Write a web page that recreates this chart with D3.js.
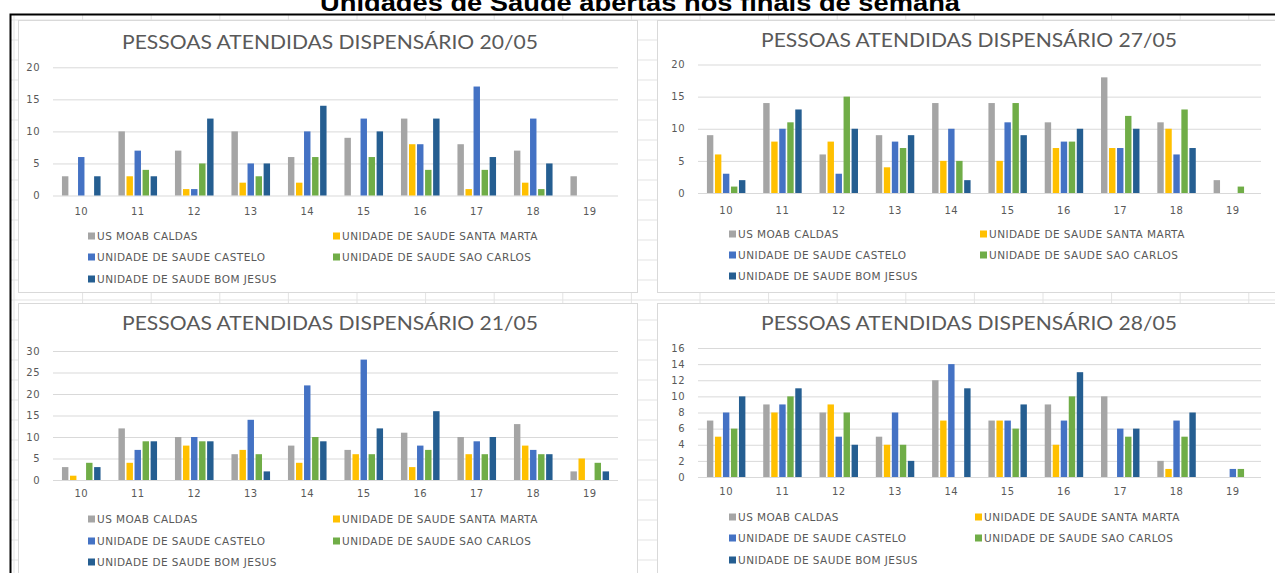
<!DOCTYPE html>
<html>
<head>
<meta charset="utf-8">
<script src="https://cdn.jsdelivr.net/npm/d3@7.9.0/dist/d3.min.js"></script>
<style>
  body { margin: 0; background: #fff; }
  svg { display: block; }
</style>
</head>
<body>
<svg width="1275" height="573"></svg>
<script>
const days = ['10', '11', '12', '13', '14', '15', '16', '17', '18', '19'];
const units = ['US MOAB CALDAS', 'UNIDADE DE SAUDE SANTA MARTA', 'UNIDADE DE SAUDE CASTELO',
               'UNIDADE DE SAUDE SAO CARLOS', 'UNIDADE DE SAUDE BOM JESUS'];
const unitColors = ['#a5a5a5', '#ffc000', '#4472c4', '#70ad47', '#255e91'];

// 20/05
const moab20 = [3, 10, 7, 10, 6, 9, 12, 8, 7, 3];
const marta20 = [0, 3, 1, 2, 2, 0, 8, 1, 2, 0];
const castelo20 = [6, 7, 1, 5, 10, 12, 8, 17, 12, 0];
const carlos20 = [0, 4, 5, 3, 6, 6, 4, 4, 1, 0];
const jesus20 = [3, 3, 12, 5, 14, 10, 12, 6, 5, 0];
// 27/05
const moab27 = [9, 14, 6, 9, 14, 14, 11, 18, 11, 2];
const marta27 = [6, 8, 8, 4, 5, 5, 7, 7, 10, 0];
const castelo27 = [3, 10, 3, 8, 10, 11, 8, 7, 6, 0];
const carlos27 = [1, 11, 15, 7, 5, 14, 8, 12, 13, 1];
const jesus27 = [2, 13, 10, 9, 2, 9, 10, 10, 7, 0];
// 21/05
const moab21 = [3, 12, 10, 6, 8, 7, 11, 10, 13, 2];
const marta21 = [1, 4, 8, 7, 4, 6, 3, 6, 8, 5];
const castelo21 = [0, 7, 10, 14, 22, 28, 8, 9, 7, 0];
const carlos21 = [4, 9, 9, 6, 10, 6, 7, 6, 6, 4];
const jesus21 = [3, 9, 9, 2, 9, 12, 16, 10, 6, 2];
// 28/05
const moab28 = [7, 9, 8, 5, 12, 7, 9, 10, 2, 0];
const marta28 = [5, 8, 9, 4, 7, 7, 4, 0, 1, 0];
const castelo28 = [8, 9, 5, 8, 14, 7, 7, 6, 7, 1];
const carlos28 = [6, 10, 8, 4, 0, 6, 10, 5, 5, 1];
const jesus28 = [10, 11, 4, 2, 11, 9, 13, 6, 8, 0];

const titles = ['PESSOAS ATENDIDAS DISPENSÁRIO 20/05', 'PESSOAS ATENDIDAS DISPENSÁRIO 27/05',
                'PESSOAS ATENDIDAS DISPENSÁRIO 21/05', 'PESSOAS ATENDIDAS DISPENSÁRIO 28/05'];
const yMax = [20, 20, 30, 16];
const yStep = [5, 5, 5, 2];

const panelData = [
  [moab20, marta20, castelo20, carlos20, jesus20],
  [moab27, marta27, castelo27, carlos27, jesus27],
  [moab21, marta21, castelo21, carlos21, jesus21],
  [moab28, marta28, castelo28, carlos28, jesus28]
];

// panel layout (page pixels)
const layout = [
  {bx: 18, by: 20, bw: 619, bh: 272, tx: 330, ty: 49, x0: 53, x1: 618, y0: 195.5, y1: 67.3, xl: 216, leg: [236, 257, 279], lx: [88, 333]},
  {bx: 657, by: 20, bw: 618, bh: 272, tx: 969, ty: 47, x0: 698, x1: 1261, y0: 193, y1: 64.5, xl: 215, leg: [234, 255, 276], lx: [729, 980]},
  {bx: 18, by: 303, bw: 619, bh: 272, tx: 330, ty: 330, x0: 53, x1: 618, y0: 480, y1: 351, xl: 498, leg: [519, 541, 562], lx: [88, 333]},
  {bx: 657, by: 303, bw: 618, bh: 272, tx: 969, ty: 330, x0: 698, x1: 1261, y0: 477, y1: 348, xl: 496, leg: [517, 538, 560], lx: [729, 975]}
];

const svg = d3.select('svg');

// page title, cut off at the top like the screenshot
svg.append('text')
  .attr('x', 640).attr('y', 11)
  .attr('text-anchor', 'middle')
  .attr('font-family', 'Liberation Sans, Arial, sans-serif')
  .attr('font-weight', 'bold')
  .attr('font-size', 24)
  .attr('textLength', 640)
  .attr('lengthAdjust', 'spacingAndGlyphs')
  .attr('fill', '#000')
  .text('Unidades de Saúde abertas nos finais de semana');

// spreadsheet cells behind the charts
const sheet = svg.append('g').attr('stroke', '#e3e3e3').attr('stroke-width', 1);
d3.range(14, 1275, 68.6).forEach(x => {
  sheet.append('line').attr('x1', x).attr('x2', x).attr('y1', 14).attr('y2', 573);
});
d3.range(20, 573, 20).forEach(y => {
  sheet.append('line').attr('x1', 10).attr('x2', 1275).attr('y1', y).attr('y2', y);
});

// black frame
svg.append('path')
  .attr('d', 'M10.5,573 V14.5 H1275')
  .attr('fill', 'none')
  .attr('stroke', '#000')
  .attr('stroke-width', 2);

panelData.forEach((rows, p) => {
  const L = layout[p];
  const g = svg.append('g');

  g.append('rect')
    .attr('x', L.bx + 0.5).attr('y', L.by + 0.5)
    .attr('width', L.bw).attr('height', L.bh)
    .attr('fill', '#fff')
    .attr('stroke', '#d9d9d9');

  g.append('text')
    .attr('x', L.tx).attr('y', L.ty)
    .attr('text-anchor', 'middle')
    .attr('font-family', 'Lato, sans-serif')
    .attr('font-size', 19)
    .attr('textLength', 416)
    .attr('lengthAdjust', 'spacingAndGlyphs')
    .attr('fill', '#595959')
    .text(titles[p]);

  const x0 = d3.scaleBand().domain(days).range([L.x0, L.x1]).paddingInner(0.26).paddingOuter(0.13);
  const x1 = d3.scaleBand().domain(d3.range(units.length)).range([0, x0.bandwidth()]).padding(0.2);
  const y = d3.scaleLinear().domain([0, yMax[p]]).range([L.y0, L.y1]);

  const yAxis = d3.axisLeft(y)
    .tickValues(d3.range(0, yMax[p] + 1, yStep[p]))
    .tickSize(-(L.x1 - L.x0))
    .tickPadding(13);
  const ya = g.append('g')
    .attr('transform', `translate(${L.x0},0)`)
    .call(yAxis);
  ya.select('.domain').remove();
  ya.selectAll('.tick line').attr('stroke', '#d9d9d9');
  ya.selectAll('.tick text')
    .attr('fill', '#595959')
    .attr('font-family', 'DejaVu Sans, sans-serif')
    .attr('font-size', 10)
    .attr('letter-spacing', 0.5);

  const xAxis = d3.axisBottom(x0).tickSize(0).tickPadding(0);
  const xa = g.append('g')
    .attr('transform', `translate(0,${L.xl - 4})`)
    .call(xAxis);
  xa.select('.domain').remove();
  xa.selectAll('.tick text')
    .attr('fill', '#595959')
    .attr('font-family', 'DejaVu Sans, sans-serif')
    .attr('font-size', 10)
    .attr('letter-spacing', 0.5)
    .attr('dy', '0.32em');

  const groups = g.append('g').selectAll('g')
    .data(days)
    .join('g')
    .attr('transform', d => `translate(${x0(d)},0)`);

  groups.selectAll('rect')
    .data((d, i) => rows.map((vals, s) => ({s, v: vals[i]})))
    .join('rect')
    .attr('x', d => x1(d.s))
    .attr('width', x1.bandwidth())
    .attr('y', d => y(d.v))
    .attr('height', d => y(0) - y(d.v))
    .attr('fill', d => unitColors[d.s]);

  // legend: two columns, three rows
  units.forEach((name, s) => {
    const lx = L.lx[s % 2];
    const ly = L.leg[Math.floor(s / 2)];
    g.append('rect')
      .attr('x', lx).attr('y', ly - 3.5)
      .attr('width', 7).attr('height', 7)
      .attr('fill', unitColors[s]);
    g.append('text')
      .attr('x', lx + 9).attr('y', ly)
      .attr('dy', '0.35em')
      .attr('font-family', 'DejaVu Sans, sans-serif')
      .attr('font-size', 10.5)
      .attr('letter-spacing', 0.45)
      .attr('fill', '#595959')
      .text(name);
  });
});
</script>
</body>
</html>
